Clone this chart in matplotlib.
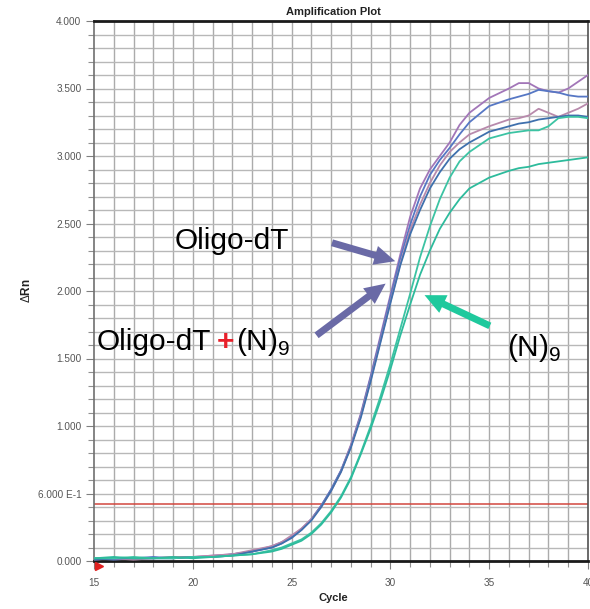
import matplotlib
matplotlib.use("Agg")
import matplotlib.pyplot as plt
import numpy as np

plt.rcParams['font.family'] = ['Liberation Sans', 'DejaVu Sans']
plt.rcParams['mathtext.fontset'] = 'custom'
plt.rcParams['mathtext.rm'] = 'Liberation Sans'

# PCR cycle grid (finer through the exponential phase)
cycles = [15, 16, 17, 18, 19, 20, 21, 22, 23, 24, 24.5, 25, 25.5, 26, 26.5,
          27, 27.5, 28, 28.5, 29, 29.5, 30, 30.5, 31, 31.5, 32, 32.5, 33,
          33.5, 34, 35, 36, 36.5, 37, 37.5, 38, 38.5, 39, 39.5, 40]

# Delta Rn per well
oligo_dt_a = [0.01, 0.02, 0.02, 0.02, 0.03, 0.03, 0.04, 0.05, 0.07, 0.11, 0.14,
              0.18, 0.24, 0.31, 0.41, 0.53, 0.67, 0.86, 1.09, 1.37, 1.67, 1.97,
              2.27, 2.55, 2.76, 2.90, 3.00, 3.10, 3.23, 3.32, 3.43, 3.50, 3.54,
              3.54, 3.50, 3.48, 3.47, 3.50, 3.55, 3.60]
oligo_dt_b = [0.02, 0.01, 0.02, 0.03, 0.02, 0.03, 0.03, 0.05, 0.07, 0.10, 0.13,
              0.18, 0.23, 0.31, 0.41, 0.53, 0.67, 0.85, 1.08, 1.36, 1.65, 1.95,
              2.24, 2.49, 2.70, 2.86, 2.97, 3.06, 3.16, 3.25, 3.37, 3.42, 3.44,
              3.46, 3.49, 3.48, 3.47, 3.45, 3.44, 3.44]
mixed_a = [0.02, 0.02, 0.01, 0.02, 0.03, 0.03, 0.04, 0.05, 0.08, 0.11, 0.14,
           0.19, 0.24, 0.31, 0.40, 0.52, 0.66, 0.85, 1.07, 1.34, 1.63, 1.92,
           2.20, 2.45, 2.64, 2.80, 2.93, 3.03, 3.10, 3.16, 3.22, 3.27, 3.28,
           3.30, 3.35, 3.32, 3.29, 3.32, 3.35, 3.39]
mixed_b = [0.01, 0.02, 0.02, 0.02, 0.02, 0.03, 0.03, 0.04, 0.07, 0.10, 0.13,
           0.17, 0.23, 0.30, 0.40, 0.52, 0.66, 0.84, 1.06, 1.33, 1.62, 1.91,
           2.19, 2.42, 2.60, 2.76, 2.88, 2.98, 3.05, 3.10, 3.18, 3.22, 3.24,
           3.25, 3.27, 3.28, 3.29, 3.30, 3.30, 3.29]
n9_a = [0.02, 0.02, 0.03, 0.02, 0.02, 0.03, 0.03, 0.04, 0.05, 0.08, 0.10,
        0.13, 0.16, 0.21, 0.28, 0.37, 0.48, 0.62, 0.80, 1.00, 1.22, 1.46,
        1.72, 1.98, 2.25, 2.48, 2.68, 2.84, 2.96, 3.03, 3.13, 3.17, 3.18,
        3.19, 3.19, 3.22, 3.28, 3.29, 3.29, 3.28]
n9_b = [0.02, 0.03, 0.02, 0.02, 0.03, 0.02, 0.03, 0.04, 0.05, 0.07, 0.09,
        0.12, 0.15, 0.20, 0.27, 0.36, 0.47, 0.61, 0.79, 0.98, 1.19, 1.42,
        1.67, 1.90, 2.12, 2.30, 2.46, 2.58, 2.68, 2.76, 2.84, 2.89, 2.91,
        2.92, 2.94, 2.95, 2.96, 2.97, 2.98, 2.99]

threshold = 0.42

series = [
    (oligo_dt_a, '#a276b8'),
    (oligo_dt_b, '#5677c4'),
    (mixed_a, '#b88aac'),
    (mixed_b, '#3f70ad'),
    (n9_a, '#3cc3a3'),
    (n9_b, '#2dbb9c'),
]

y_ticks = [0.0, 0.5, 1.0, 1.5, 2.0, 2.5, 3.0, 3.5, 4.0]
y_tick_labels = ['0.000', '6.000 E-1', '1.000', '1.500', '2.000', '2.500',
                 '3.000', '3.500', '4.000']
x_ticks = [15, 20, 25, 30, 35, 40]

W, H = 590, 609
fig = plt.figure(figsize=(W / 100, H / 100), dpi=100)
ax = fig.add_axes([94 / W, 1 - 561 / H, (588 - 94) / W, (561 - 21) / H])

ax.set_xlim(15, 40)
ax.set_ylim(0, 4)

# grid: every cycle and every 0.1 Delta Rn
for c in np.arange(16, 40):
    ax.axvline(c, color='#ababab', lw=1.0, zorder=0)
for v in np.arange(1, 40) / 10:
    ax.axhline(v, color='#b8b8b8', lw=1.0, zorder=0)

ax.axhline(threshold, color='#d2473f', lw=1.1, zorder=1)

for vals, col in series:
    ax.plot(cycles, vals, color=col, lw=1.3, zorder=3)

# threshold start flag
ax.plot([15.25], [-0.035], marker='>', color='#e02020', ms=6, clip_on=False,
        zorder=5)

ax.set_yticks(y_ticks)
ax.set_yticklabels(y_tick_labels)
ax.set_yticks(np.arange(0, 41) / 10, minor=True)
ax.set_xticks(x_ticks)
ax.set_xticks(np.arange(15, 41), minor=True)
ax.tick_params(axis='both', which='major', length=6, width=0.8, color='#808080',
               labelsize=7.2, labelcolor='#555555', pad=3)
ax.tick_params(axis='both', which='minor', length=4, width=0.8, color='#909090')
ax.tick_params(axis='x', pad=6)

for side in ['top', 'bottom']:
    ax.spines[side].set_linewidth(2.0)
    ax.spines[side].set_color('#1a1a1a')
ax.spines['left'].set_color('#707070')
ax.spines['left'].set_linewidth(1.2)
ax.spines['right'].set_color('#505050')
ax.spines['right'].set_linewidth(1.2)

fig.text(333 / W, 1 - 12 / H, 'Amplification Plot', ha='center', va='center',
         fontsize=8, fontweight='bold', color='#222222')
fig.text(333 / W, 1 - 598 / H, 'Cycle', ha='center', va='center',
         fontsize=8, fontweight='bold', color='#222222')
fig.text(27 / W, 1 - 291 / H, r'$\Delta$Rn', ha='center', va='center',
         rotation=90, fontsize=8.5, fontweight='bold', color='#222222')


def fx(px):
    return px / W


def fy(py):
    return 1 - py / H


# labels for the primer sets
fig.text(fx(175), fy(241), 'Oligo-dT', fontsize=21.5, ha='left', va='center',
         color='black')
fig.text(fx(97), fy(342), 'Oligo-dT', fontsize=21.5, ha='left', va='center',
         color='black')
fig.text(fx(225), fy(342), '+', fontsize=21.5, ha='center', va='center',
         color='#e8202a', fontweight='bold')
fig.text(fx(236), fy(342), r'(N)$_{9}$', fontsize=21.5, ha='left',
         va='center', color='black')
fig.text(fx(507), fy(348), r'(N)$_{9}$', fontsize=21.5, ha='left',
         va='center', color='black')

arrow_dark = '#6a6aa6'
arrow_green = '#1fc99d'
arrow_style = dict(arrowstyle='simple,head_length=1.5,head_width=1.4,tail_width=0.5',
                   lw=0)

ax.annotate('', xy=(30.38, 2.215), xytext=(26.91, 2.363),
            arrowprops=dict(color=arrow_dark, mutation_scale=10, **arrow_style),
            zorder=6)
ax.annotate('', xy=(29.87, 2.067), xytext=(26.15, 1.659),
            arrowprops=dict(color=arrow_dark, mutation_scale=10, **arrow_style),
            zorder=6)
ax.annotate('', xy=(31.6, 1.978), xytext=(35.16, 1.733),
            arrowprops=dict(color=arrow_green, mutation_scale=10, **arrow_style),
            zorder=6)

fig.savefig('out.png', dpi=100)
